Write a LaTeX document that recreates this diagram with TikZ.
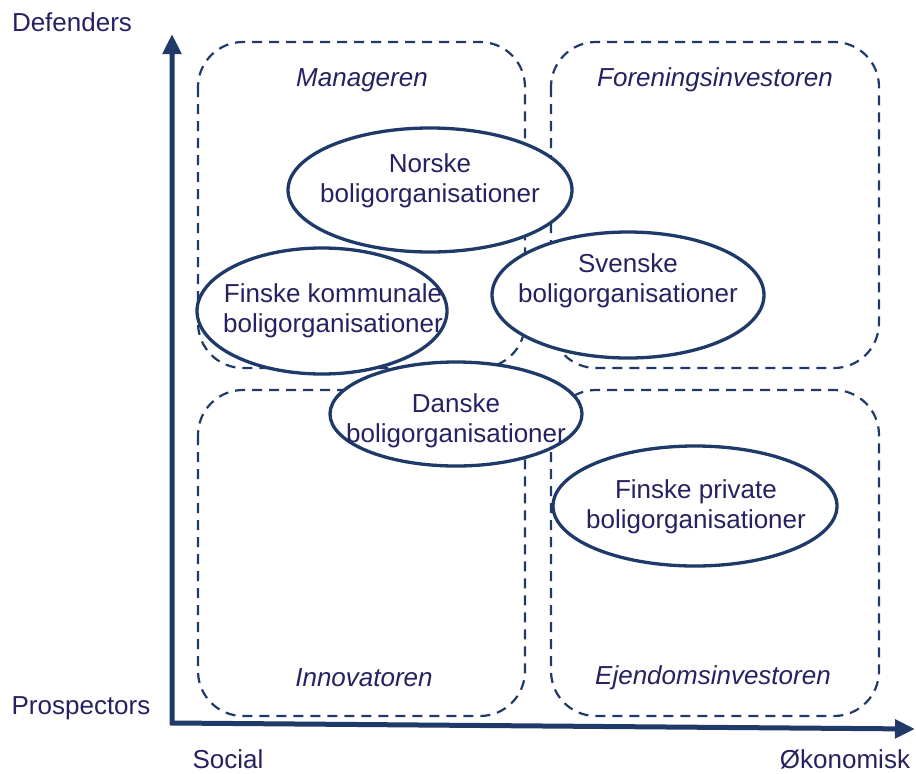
\documentclass[tikz,border=0pt]{standalone}
\usepackage{fontspec}
\setmainfont{Liberation Sans}
\usetikzlibrary{arrows.meta,shapes.geometric}
\definecolor{lineblue}{HTML}{1F3A68}
\definecolor{textblue}{HTML}{262160}
\begin{document}
\begin{tikzpicture}[x=1pt,y=-1pt,
  quad/.style={draw=lineblue,line width=2.2pt,dash pattern=on 10pt off 7pt,rounded corners=45pt},
  ell/.style={ellipse,draw=lineblue,line width=3.3pt,inner sep=0pt},
  elltext/.style={text=textblue,font=\fontsize{26}{30}\selectfont,align=center},
  quadlabel/.style={text=textblue,font=\fontsize{26}{30}\selectfont\itshape},
  axlabel/.style={text=textblue,font=\fontsize{26}{30}\selectfont},
  axis/.style={draw=lineblue,line width=5pt,{Triangle[length=20pt,width=18pt]}-{Triangle[length=20pt,width=18pt]}}
]
\useasboundingbox (0,0) rectangle (916,774);
% quadrants
\draw[quad] (198,42) rectangle (525,368);
\draw[quad] (551,42) rectangle (879,368);
\draw[quad] (198,390) rectangle (525,716);
\draw[quad] (551,390) rectangle (879,716);
% quadrant labels
\node[quadlabel] (mgr) at (362,80) {Manageren};
\node[quadlabel] (forinv) at (715,80) {Foreningsinvestoren};
\node[quadlabel] (innov) at (364,678) {Innovatoren};
\node[quadlabel] (ejdinv) at (713,678) {Ejendomsinvestoren};
% axes
\coordinate (ytop) at (172,34);
\coordinate (origin) at (172,723);
\coordinate (xend) at (915,729);
\draw[axis] (ytop) -- (origin) -- (xend);
\node[axlabel] (def) at (72,22) {Defenders};
\node[axlabel] (pros) at (81,708) {Prospectors};
\node[axlabel] (soc) at (228,759) {Social};
\node[axlabel] (oko) at (845,759) {Økonomisk};
% ellipse fills
\fill[white] (430,190) ellipse (142 and 62);
\fill[white] (628,295) ellipse (136 and 63);
\fill[white] (322,311) ellipse (125 and 63);
\fill[white] (456,414) ellipse (126 and 52);
\fill[white] (695,506) ellipse (142 and 60);
% ellipse outlines
\node[ell,minimum width=284pt,minimum height=124pt] (norske) at (430,190) {};
\node[ell,minimum width=272pt,minimum height=126pt] (svenske) at (628,295) {};
\node[ell,minimum width=250pt,minimum height=126pt] (finskk) at (322,311) {};
\node[ell,minimum width=252pt,minimum height=104pt] (danske) at (456,414) {};
\node[ell,minimum width=284pt,minimum height=120pt] (finskp) at (695,506) {};
% ellipse texts
\node[elltext] (tnorske) at (430,181) {Norske\\boligorganisationer};
\node[elltext] (tsvenske) at (628,281) {Svenske\\boligorganisationer};
\node[elltext] (tfinskk) at (333,311) {Finske kommunale\\boligorganisationer};
\node[elltext] (tdanske) at (456,421) {Danske\\boligorganisationer};
\node[elltext] (tfinskp) at (696,507) {Finske private\\boligorganisationer};
\end{tikzpicture}
\end{document}
